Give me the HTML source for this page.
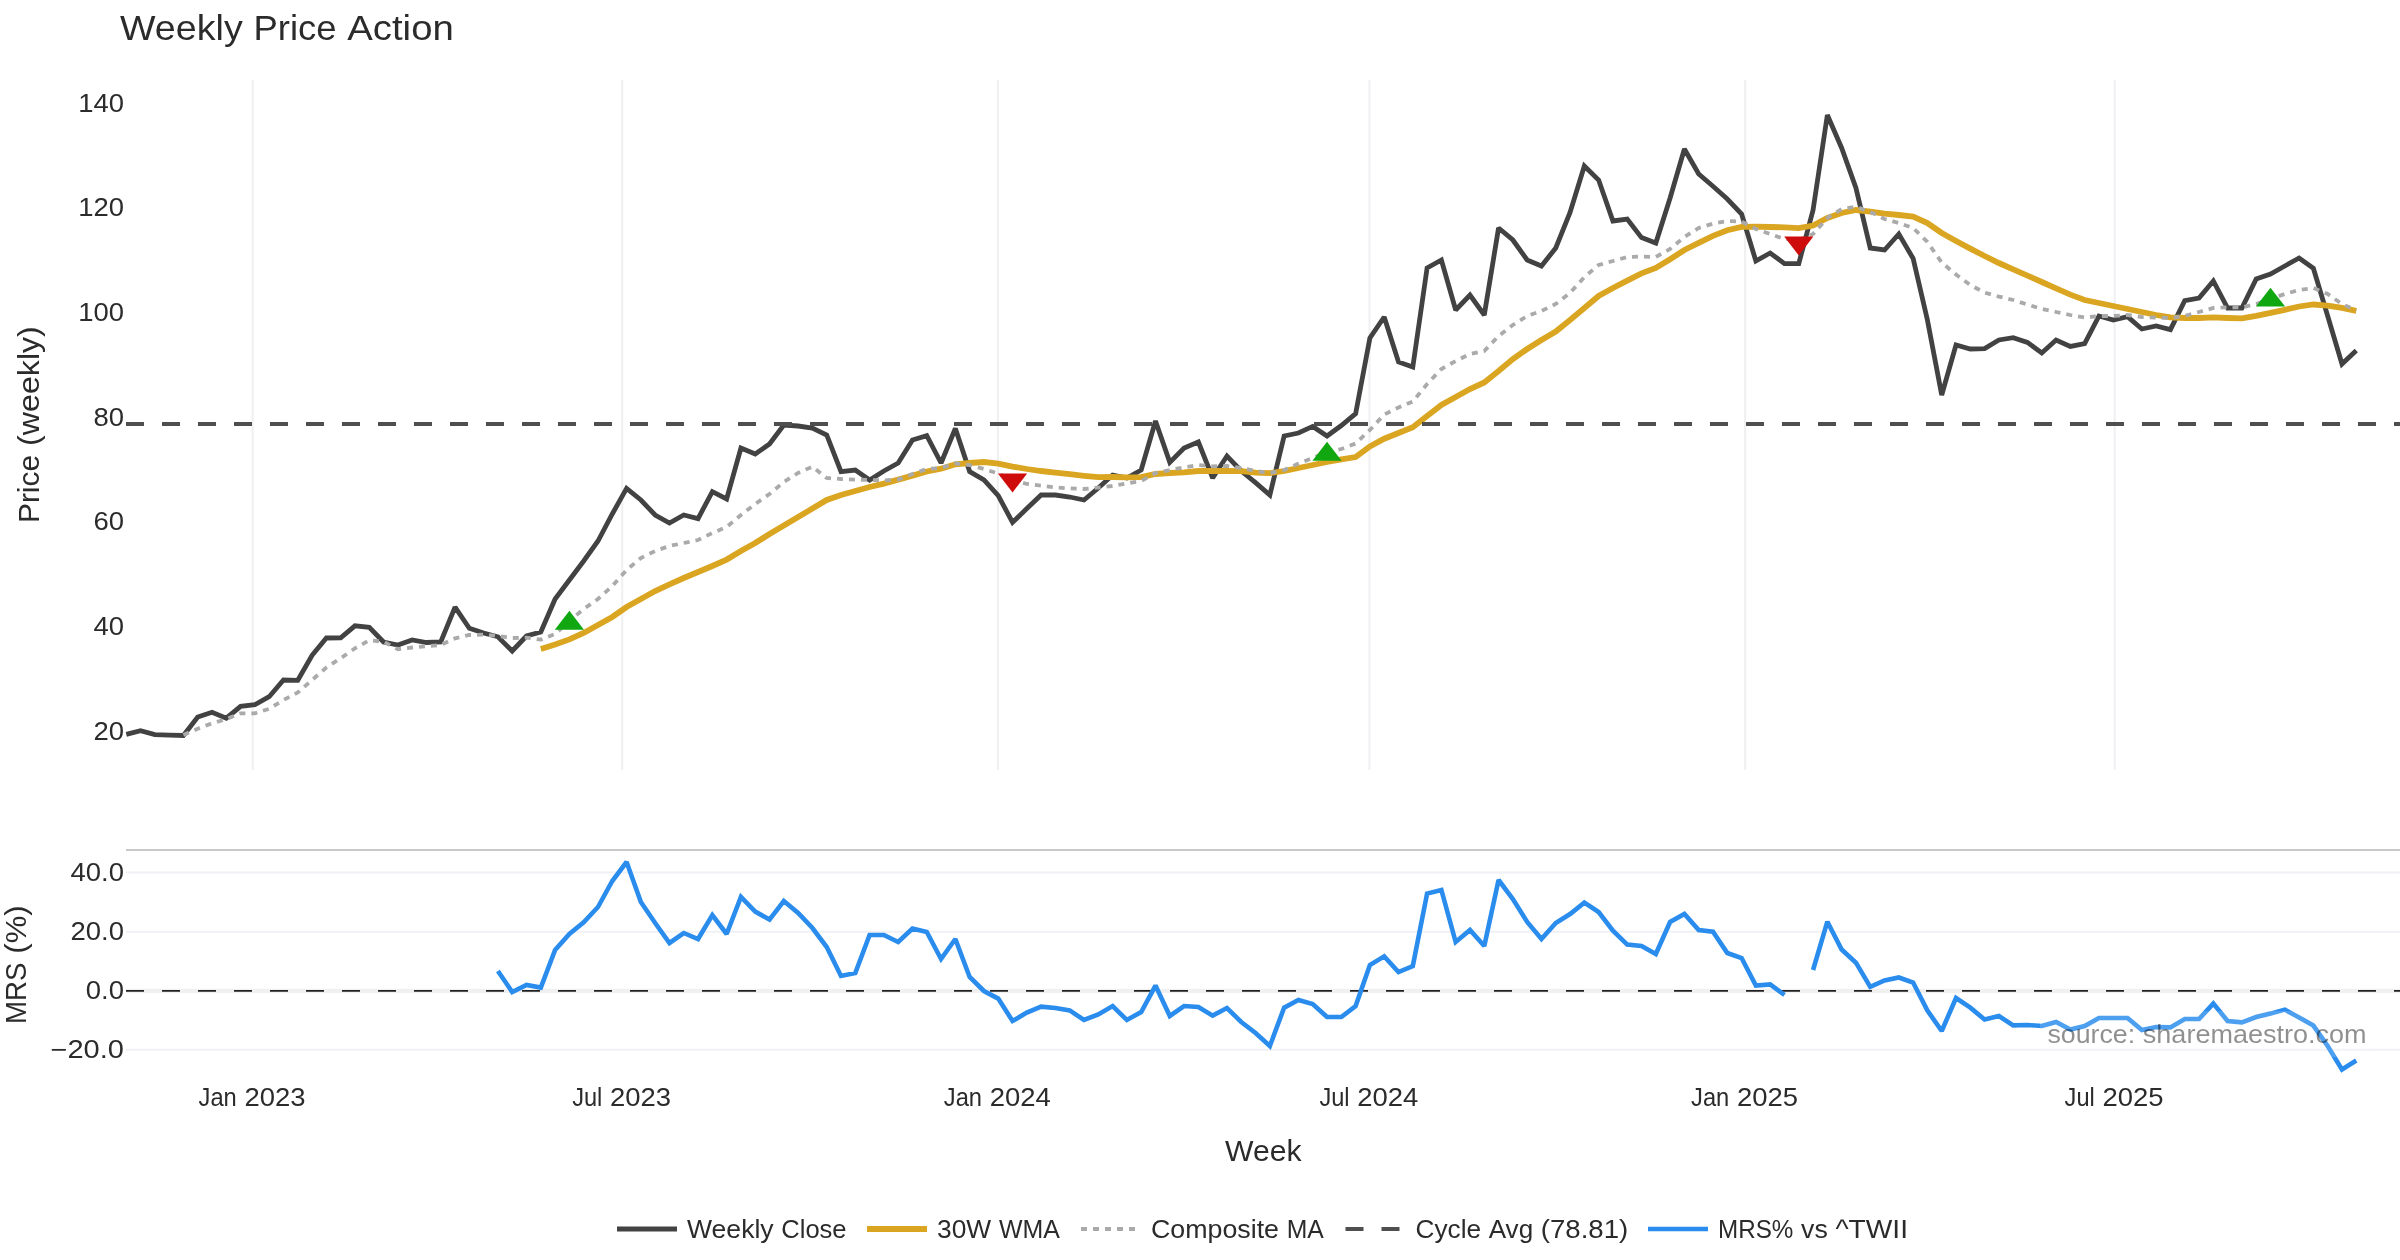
<!DOCTYPE html>
<html><head><meta charset="utf-8"><title>Weekly Price Action</title>
<style>
html,body{margin:0;padding:0;background:#fff;}
body{width:2400px;height:1260px;overflow:hidden;}
svg{display:block;font-family:"Liberation Sans",sans-serif;}
</style></head><body>
<svg width="2400" height="1260" viewBox="0 0 2400 1260">
<rect width="2400" height="1260" fill="#ffffff"/>
<g stroke="#f1f1f4" stroke-width="2.2" fill="none">
<path d="M252.67,80V770"/>
<path d="M622.2177,80V770"/>
<path d="M997.8905,80V770"/>
<path d="M1369.4799,80V770"/>
<path d="M1745.1527,80V770"/>
<path d="M2114.7004,80V770"/>
</g>
<g stroke="#f0f1f5" stroke-width="2" fill="none">
<path d="M126,872.6H2400"/>
<path d="M126,931.65H2400"/>
<path d="M126,1049.7H2400"/>
</g>
<path d="M126,990.85H2400" stroke="#f0f0f0" stroke-width="4.4" fill="none"/>
<path d="M126,850H2400" stroke="#c9c9c9" stroke-width="2" fill="none"/>
<path d="M126,990.9H2400" stroke="#202020" stroke-width="1.9" stroke-dasharray="18,18" fill="none"/>
<g fill="none" stroke-linejoin="miter" stroke-miterlimit="2">
<path d="M126.25,734.40L140.54,730.70L154.84,734.60L169.13,735.10L183.43,735.50L197.72,717.00L212.02,712.30L226.31,718.20L240.61,706.30L254.91,704.70L269.20,696.70L283.50,680.00L297.79,680.30L312.09,655.30L326.38,638.00L340.68,637.80L354.97,625.80L369.26,627.30L383.56,642.00L397.86,645.00L412.15,640.00L426.44,642.50L440.74,642.00L455.04,607.20L469.33,628.30L483.62,633.00L497.92,636.80L512.21,651.00L526.51,636.00L540.81,632.00L555.10,599.00L569.39,580.00L583.69,561.00L597.99,541.00L612.28,514.00L626.58,488.40L640.87,500.00L655.16,515.00L669.46,523.00L683.75,515.00L698.05,518.60L712.35,491.60L726.64,499.00L740.93,448.00L755.23,454.00L769.52,444.00L783.82,425.00L798.12,426.00L812.41,428.00L826.71,435.00L841.00,471.60L855.29,470.00L869.59,480.00L883.88,471.00L898.18,463.00L912.48,440.00L926.77,435.60L941.06,463.00L955.36,428.50L969.65,471.60L983.95,480.00L998.25,495.60L1012.54,522.40L1026.84,508.60L1041.13,495.00L1055.42,495.00L1069.72,497.00L1084.01,500.00L1098.31,488.00L1112.61,475.00L1126.90,478.00L1141.20,470.00L1155.49,421.00L1169.79,462.40L1184.08,448.00L1198.38,442.00L1212.67,478.00L1226.96,456.00L1241.26,471.00L1255.56,482.60L1269.85,495.00L1284.14,436.00L1298.44,433.00L1312.73,426.40L1327.03,436.00L1341.33,425.50L1355.62,413.60L1369.91,338.00L1384.21,317.00L1398.50,362.00L1412.80,367.00L1427.10,268.00L1441.39,260.00L1455.68,310.00L1469.98,295.00L1484.28,315.00L1498.57,228.00L1512.87,240.00L1527.16,260.00L1541.45,266.00L1555.75,248.00L1570.05,212.50L1584.34,166.00L1598.63,180.00L1612.93,221.00L1627.22,219.00L1641.52,237.60L1655.82,243.00L1670.11,198.00L1684.40,149.00L1698.70,174.00L1712.99,186.30L1727.29,199.00L1741.59,214.00L1755.88,261.00L1770.17,253.00L1784.47,263.60L1798.77,263.60L1813.06,210.00L1827.36,115.00L1841.65,148.00L1855.94,188.00L1870.24,248.00L1884.54,250.00L1898.83,234.00L1913.12,258.50L1927.42,320.00L1941.71,395.00L1956.01,345.00L1970.31,349.00L1984.60,348.60L1998.89,340.00L2013.19,337.60L2027.48,342.40L2041.78,353.00L2056.07,340.00L2070.37,346.40L2084.66,343.60L2098.96,316.00L2113.26,320.00L2127.55,316.60L2141.85,329.00L2156.14,326.00L2170.43,329.60L2184.73,300.60L2199.03,298.00L2213.32,281.00L2227.61,308.00L2241.91,308.00L2256.20,279.00L2270.50,274.00L2284.80,266.00L2299.09,258.00L2313.38,268.30L2327.68,316.00L2341.97,364.00L2356.27,350.40" stroke="#424242" stroke-width="4.8"/>
<path d="M540.81,649.00L555.10,644.60L569.39,639.40L583.69,633.00L597.99,625.00L612.28,617.00L626.58,607.00L640.87,599.00L655.16,591.00L669.46,584.40L683.75,578.00L698.05,572.00L712.35,566.00L726.64,559.60L740.93,551.00L755.23,543.00L769.52,534.00L783.82,525.60L798.12,517.00L812.41,508.60L826.71,500.00L841.00,495.00L855.29,491.00L869.59,487.00L883.88,483.60L898.18,479.60L912.48,475.60L926.77,471.50L941.06,468.70L955.36,464.30L969.65,463.00L983.95,462.00L998.25,463.60L1012.54,466.60L1026.84,469.00L1041.13,471.00L1055.42,472.60L1069.72,474.20L1084.01,475.80L1098.31,477.20L1112.61,477.00L1126.90,477.40L1141.20,477.20L1155.49,474.00L1169.79,473.00L1184.08,472.40L1198.38,471.00L1212.67,471.00L1226.96,471.00L1241.26,471.20L1255.56,472.60L1269.85,473.20L1284.14,471.00L1298.44,468.00L1312.73,465.00L1327.03,462.00L1341.33,459.40L1355.62,457.00L1369.91,446.50L1384.21,438.70L1398.50,433.00L1412.80,427.20L1427.10,416.00L1441.39,405.00L1455.68,397.00L1469.98,389.00L1484.28,382.40L1498.57,371.00L1512.87,359.00L1527.16,349.00L1541.45,340.00L1555.75,331.60L1570.05,320.00L1584.34,308.00L1598.63,296.00L1612.93,288.00L1627.22,280.60L1641.52,273.40L1655.82,268.00L1670.11,259.30L1684.40,250.00L1698.70,242.80L1712.99,235.80L1727.29,230.20L1741.59,226.90L1755.88,226.60L1770.17,227.00L1784.47,227.40L1798.77,228.20L1813.06,225.50L1827.36,218.00L1841.65,213.00L1855.94,210.00L1870.24,211.60L1884.54,213.60L1898.83,215.00L1913.12,216.70L1927.42,223.00L1941.71,233.00L1956.01,241.00L1970.31,248.60L1984.60,256.00L1998.89,263.00L2013.19,269.40L2027.48,275.60L2041.78,282.00L2056.07,288.40L2070.37,294.60L2084.66,300.00L2098.96,303.00L2113.26,306.00L2127.55,309.00L2141.85,312.00L2156.14,315.00L2170.43,317.40L2184.73,318.00L2199.03,318.00L2213.32,317.40L2227.61,318.00L2241.91,318.40L2256.20,315.80L2270.50,312.80L2284.80,309.80L2299.09,306.50L2313.38,304.50L2327.68,305.60L2341.97,307.80L2356.27,310.80" stroke="#DAA520" stroke-width="5.8"/>
<path d="M183.43,735.00L197.72,728.70L212.02,723.30L226.31,719.20L240.61,713.30L254.91,713.30L269.20,708.80L283.50,700.00L297.79,692.50L312.09,680.00L326.38,667.50L340.68,658.30L354.97,648.30L369.26,640.30L383.56,641.70L397.86,649.20L412.15,647.50L426.44,646.30L440.74,645.00L455.04,638.30L469.33,635.00L483.62,634.60L497.92,636.00L512.21,638.00L526.51,637.60L540.81,639.60L555.10,634.00L569.39,621.00L583.69,609.00L597.99,599.00L612.28,586.00L626.58,570.00L640.87,558.00L655.16,551.00L669.46,546.00L683.75,543.00L698.05,540.00L712.35,533.00L726.64,527.00L740.93,515.00L755.23,504.00L769.52,494.00L783.82,482.00L798.12,473.00L812.41,466.60L826.71,478.00L841.00,479.00L855.29,479.60L869.59,480.00L883.88,480.40L898.18,479.60L912.48,474.00L926.77,469.00L941.06,468.00L955.36,463.30L969.65,465.00L983.95,469.00L998.25,473.60L1012.54,480.00L1026.84,484.00L1041.13,485.60L1055.42,487.40L1069.72,488.40L1084.01,489.00L1098.31,487.60L1112.61,486.00L1126.90,483.40L1141.20,481.00L1155.49,473.00L1169.79,470.00L1184.08,467.40L1198.38,465.00L1212.67,466.40L1226.96,466.00L1241.26,468.00L1255.56,471.00L1269.85,473.00L1284.14,470.00L1298.44,463.60L1312.73,458.00L1327.03,452.00L1341.33,449.00L1355.62,443.50L1369.91,430.00L1384.21,414.50L1398.50,407.50L1412.80,401.50L1427.10,384.00L1441.39,369.00L1455.68,361.00L1469.98,354.00L1484.28,351.00L1498.57,336.00L1512.87,325.00L1527.16,316.00L1541.45,311.00L1555.75,304.00L1570.05,293.00L1584.34,277.00L1598.63,265.00L1612.93,261.00L1627.22,257.00L1641.52,256.60L1655.82,257.00L1670.11,249.00L1684.40,237.00L1698.70,228.00L1712.99,223.60L1727.29,221.00L1741.59,221.60L1755.88,229.00L1770.17,234.00L1784.47,239.00L1798.77,240.00L1813.06,234.00L1827.36,218.00L1841.65,209.00L1855.94,206.60L1870.24,212.00L1884.54,219.00L1898.83,223.00L1913.12,228.00L1927.42,242.00L1941.71,262.50L1956.01,274.50L1970.31,285.00L1984.60,292.60L1998.89,296.60L2013.19,300.00L2027.48,304.60L2041.78,309.00L2056.07,312.00L2070.37,315.00L2084.66,317.60L2098.96,316.00L2113.26,316.00L2127.55,315.00L2141.85,317.00L2156.14,317.60L2170.43,318.00L2184.73,316.00L2199.03,312.00L2213.32,308.00L2227.61,307.40L2241.91,307.40L2256.20,304.00L2270.50,299.00L2284.80,294.00L2299.09,290.00L2313.38,288.00L2327.68,294.00L2341.97,304.00L2356.27,310.40" stroke="#aaaaaa" stroke-width="3.8" stroke-dasharray="6,6"/>
<path d="M126,423.93H2400" stroke="#4f4f4f" stroke-width="4" stroke-dasharray="18,18"/>
<path d="M497.92,971.00L512.21,992.00L526.51,985.00L540.81,987.60L555.10,950.00L569.39,934.00L583.69,922.40L597.99,907.00L612.28,881.00L626.58,862.00L640.87,902.00L655.16,923.00L669.46,943.00L683.75,933.00L698.05,939.00L712.35,915.00L726.64,934.00L740.93,897.00L755.23,911.60L769.52,919.60L783.82,901.00L798.12,913.00L812.41,928.00L826.71,947.00L841.00,976.00L855.29,973.00L869.59,935.00L883.88,935.00L898.18,942.00L912.48,928.60L926.77,932.00L941.06,959.00L955.36,939.00L969.65,977.00L983.95,991.00L998.25,998.60L1012.54,1021.00L1026.84,1012.60L1041.13,1006.60L1055.42,1008.00L1069.72,1010.40L1084.01,1020.00L1098.31,1014.40L1112.61,1006.00L1126.90,1020.00L1141.20,1012.00L1155.49,985.60L1169.79,1016.00L1184.08,1006.00L1198.38,1007.00L1212.67,1015.60L1226.96,1008.00L1241.26,1022.00L1255.56,1033.00L1269.85,1046.00L1284.14,1007.60L1298.44,1000.00L1312.73,1004.00L1327.03,1017.00L1341.33,1017.00L1355.62,1006.00L1369.91,965.00L1384.21,956.40L1398.50,972.00L1412.80,966.00L1427.10,893.60L1441.39,890.00L1455.68,942.00L1469.98,930.00L1484.28,946.00L1498.57,880.00L1512.87,899.00L1527.16,922.00L1541.45,939.00L1555.75,923.00L1570.05,914.00L1584.34,902.60L1598.63,912.00L1612.93,930.60L1627.22,944.60L1641.52,946.00L1655.82,954.00L1670.11,922.00L1684.40,914.00L1698.70,930.00L1712.99,931.60L1727.29,953.00L1741.59,958.00L1755.88,985.60L1770.17,984.40L1784.47,995.00M1813.06,970.00L1827.36,921.70L1841.65,949.50L1855.94,962.70L1870.24,986.80L1884.54,980.50L1898.83,977.50L1913.12,982.50L1927.42,1010.50L1941.71,1031.00L1956.01,998.00L1970.31,1007.70L1984.60,1019.50L1998.89,1016.00L2013.19,1025.40L2027.48,1025.00L2041.78,1026.00L2056.07,1022.00L2070.37,1029.60L2084.66,1026.00L2098.96,1018.00L2113.26,1018.00L2127.55,1018.00L2141.85,1030.00L2156.14,1027.00L2170.43,1027.40L2184.73,1019.00L2199.03,1019.00L2213.32,1003.60L2227.61,1021.00L2241.91,1022.40L2256.20,1017.00L2270.50,1013.60L2284.80,1009.60L2299.09,1017.40L2313.38,1025.60L2327.68,1046.00L2341.97,1069.50L2356.27,1060.50" stroke="#2a8cec" stroke-width="4.6"/>
</g>
<path d="M554.79,629.78H584.00L569.39,610.80Z" fill="#11a711"/>
<path d="M1312.42,460.72H1341.64L1327.03,441.75Z" fill="#11a711"/>
<path d="M2255.89,306.62H2285.11L2270.50,287.65Z" fill="#11a711"/>
<path d="M997.93,473.43H1027.15L1012.54,492.40Z" fill="#cf0c0c"/>
<path d="M1784.16,236.48H1813.37L1798.77,255.45Z" fill="#cf0c0c"/>
<g opacity="0.999">
<rect x="2040" y="1011" width="332" height="46" fill="#fff" fill-opacity="0.17"/>
<text transform="translate(2047.40,1043.40) scale(1.1160,1.045)" font-size="24" fill="#000" fill-opacity="0.44">source:</text>
<text transform="translate(2142.82,1043.40) scale(1.1261,1.045)" font-size="24" fill="#000" fill-opacity="0.44">sharemaestro.com</text>
<text transform="translate(120.00,40.00) scale(1.1071,1.045)" font-size="34" fill="#2b2b2b">Weekly</text>
<text transform="translate(253.53,40.00) scale(1.0710,1.045)" font-size="34" fill="#2b2b2b">Price</text>
<text transform="translate(347.28,40.00) scale(1.1270,1.045)" font-size="34" fill="#2b2b2b">Action</text>
<text transform="translate(78.19,111.75) scale(1.1435,1.045)" font-size="24" fill="#2b2b2b">140</text>
<text transform="translate(78.19,216.40) scale(1.1435,1.045)" font-size="24" fill="#2b2b2b">120</text>
<text transform="translate(78.19,321.10) scale(1.1435,1.045)" font-size="24" fill="#2b2b2b">100</text>
<text transform="translate(93.46,425.75) scale(1.1452,1.045)" font-size="24" fill="#2b2b2b">80</text>
<text transform="translate(93.46,530.40) scale(1.1452,1.045)" font-size="24" fill="#2b2b2b">60</text>
<text transform="translate(93.46,635.10) scale(1.1452,1.045)" font-size="24" fill="#2b2b2b">40</text>
<text transform="translate(93.46,739.75) scale(1.1452,1.045)" font-size="24" fill="#2b2b2b">20</text>
<text transform="translate(70.56,880.80) scale(1.1446,1.045)" font-size="24" fill="#2b2b2b">40.0</text>
<text transform="translate(70.56,939.85) scale(1.1446,1.045)" font-size="24" fill="#2b2b2b">20.0</text>
<text transform="translate(85.83,998.85) scale(1.1442,1.045)" font-size="24" fill="#2b2b2b">0.0</text>
<text transform="translate(50.45,1057.90) scale(1.2109,1.045)" font-size="24" fill="#2b2b2b">−20.0</text>
<text transform="translate(198.57,1106.00) scale(0.9887,1.045)" font-size="24" fill="#2b2b2b">Jan</text>
<text transform="translate(244.44,1106.00) scale(1.1440,1.045)" font-size="24" fill="#2b2b2b">2023</text>
<text transform="translate(572.14,1106.00) scale(0.9837,1.045)" font-size="24" fill="#2b2b2b">Jul</text>
<text transform="translate(609.97,1106.00) scale(1.1440,1.045)" font-size="24" fill="#2b2b2b">2023</text>
<text transform="translate(943.79,1106.00) scale(0.9887,1.045)" font-size="24" fill="#2b2b2b">Jan</text>
<text transform="translate(989.66,1106.00) scale(1.1440,1.045)" font-size="24" fill="#2b2b2b">2024</text>
<text transform="translate(1319.40,1106.00) scale(0.9837,1.045)" font-size="24" fill="#2b2b2b">Jul</text>
<text transform="translate(1357.23,1106.00) scale(1.1440,1.045)" font-size="24" fill="#2b2b2b">2024</text>
<text transform="translate(1691.05,1106.00) scale(0.9887,1.045)" font-size="24" fill="#2b2b2b">Jan</text>
<text transform="translate(1736.93,1106.00) scale(1.1440,1.045)" font-size="24" fill="#2b2b2b">2025</text>
<text transform="translate(2064.62,1106.00) scale(0.9837,1.045)" font-size="24" fill="#2b2b2b">Jul</text>
<text transform="translate(2102.45,1106.00) scale(1.1440,1.045)" font-size="24" fill="#2b2b2b">2025</text>
<text transform="translate(1224.94,1160.80) scale(1.0782,1.045)" font-size="28" fill="#2b2b2b">Week</text>
<text transform="translate(38.60,424.60) rotate(-90) translate(-98.49,0) scale(1.0705,1.045)" font-size="28" fill="#2b2b2b">Price</text>
<text transform="translate(38.60,424.60) rotate(-90) translate(-21.28,0) scale(1.1487,1.045)" font-size="28" fill="#2b2b2b">(weekly)</text>
<text transform="translate(26.10,964.60) rotate(-90) translate(-59.37,0) scale(0.9859,1.045)" font-size="28" fill="#2b2b2b">MRS</text>
<text transform="translate(26.10,964.60) rotate(-90) translate(10.92,0) scale(1.1119,1.045)" font-size="28" fill="#2b2b2b">(%)</text>
<path d="M617,1229h60" stroke="#424242" stroke-width="4.8"/>
<path d="M867,1229h60" stroke="#DAA520" stroke-width="5.8"/>
<path d="M1081,1229h60" stroke="#aaaaaa" stroke-width="3.8" stroke-dasharray="6,6"/>
<path d="M1345.5,1229h60" stroke="#4f4f4f" stroke-width="4" stroke-dasharray="18,18"/>
<path d="M1648,1229h60" stroke="#2a8cec" stroke-width="4.6"/>
<text transform="translate(687.00,1237.60) scale(1.1070,1.045)" font-size="24" fill="#2b2b2b">Weekly</text>
<text transform="translate(781.25,1237.60) scale(1.0652,1.045)" font-size="24" fill="#2b2b2b">Close</text>
<text transform="translate(937.00,1237.60) scale(1.0987,1.045)" font-size="24" fill="#2b2b2b">30W</text>
<text transform="translate(998.90,1237.60) scale(1.0384,1.045)" font-size="24" fill="#2b2b2b">WMA</text>
<text transform="translate(1151.00,1237.60) scale(1.1166,1.045)" font-size="24" fill="#2b2b2b">Composite</text>
<text transform="translate(1286.71,1237.60) scale(1.0312,1.045)" font-size="24" fill="#2b2b2b">MA</text>
<text transform="translate(1415.50,1237.60) scale(1.0927,1.045)" font-size="24" fill="#2b2b2b">Cycle</text>
<text transform="translate(1488.72,1237.60) scale(1.0855,1.045)" font-size="24" fill="#2b2b2b">Avg</text>
<text transform="translate(1540.80,1237.60) scale(1.1495,1.045)" font-size="24" fill="#2b2b2b">(78.81)</text>
<text transform="translate(1718.00,1237.60) scale(1.0100,1.045)" font-size="24" fill="#2b2b2b">MRS%</text>
<text transform="translate(1801.05,1237.60) scale(1.1120,1.045)" font-size="24" fill="#2b2b2b">vs</text>
<text transform="translate(1835.39,1237.60) scale(1.1736,1.045)" font-size="24" fill="#2b2b2b">^TWII</text>
</g>
</svg></body></html>
